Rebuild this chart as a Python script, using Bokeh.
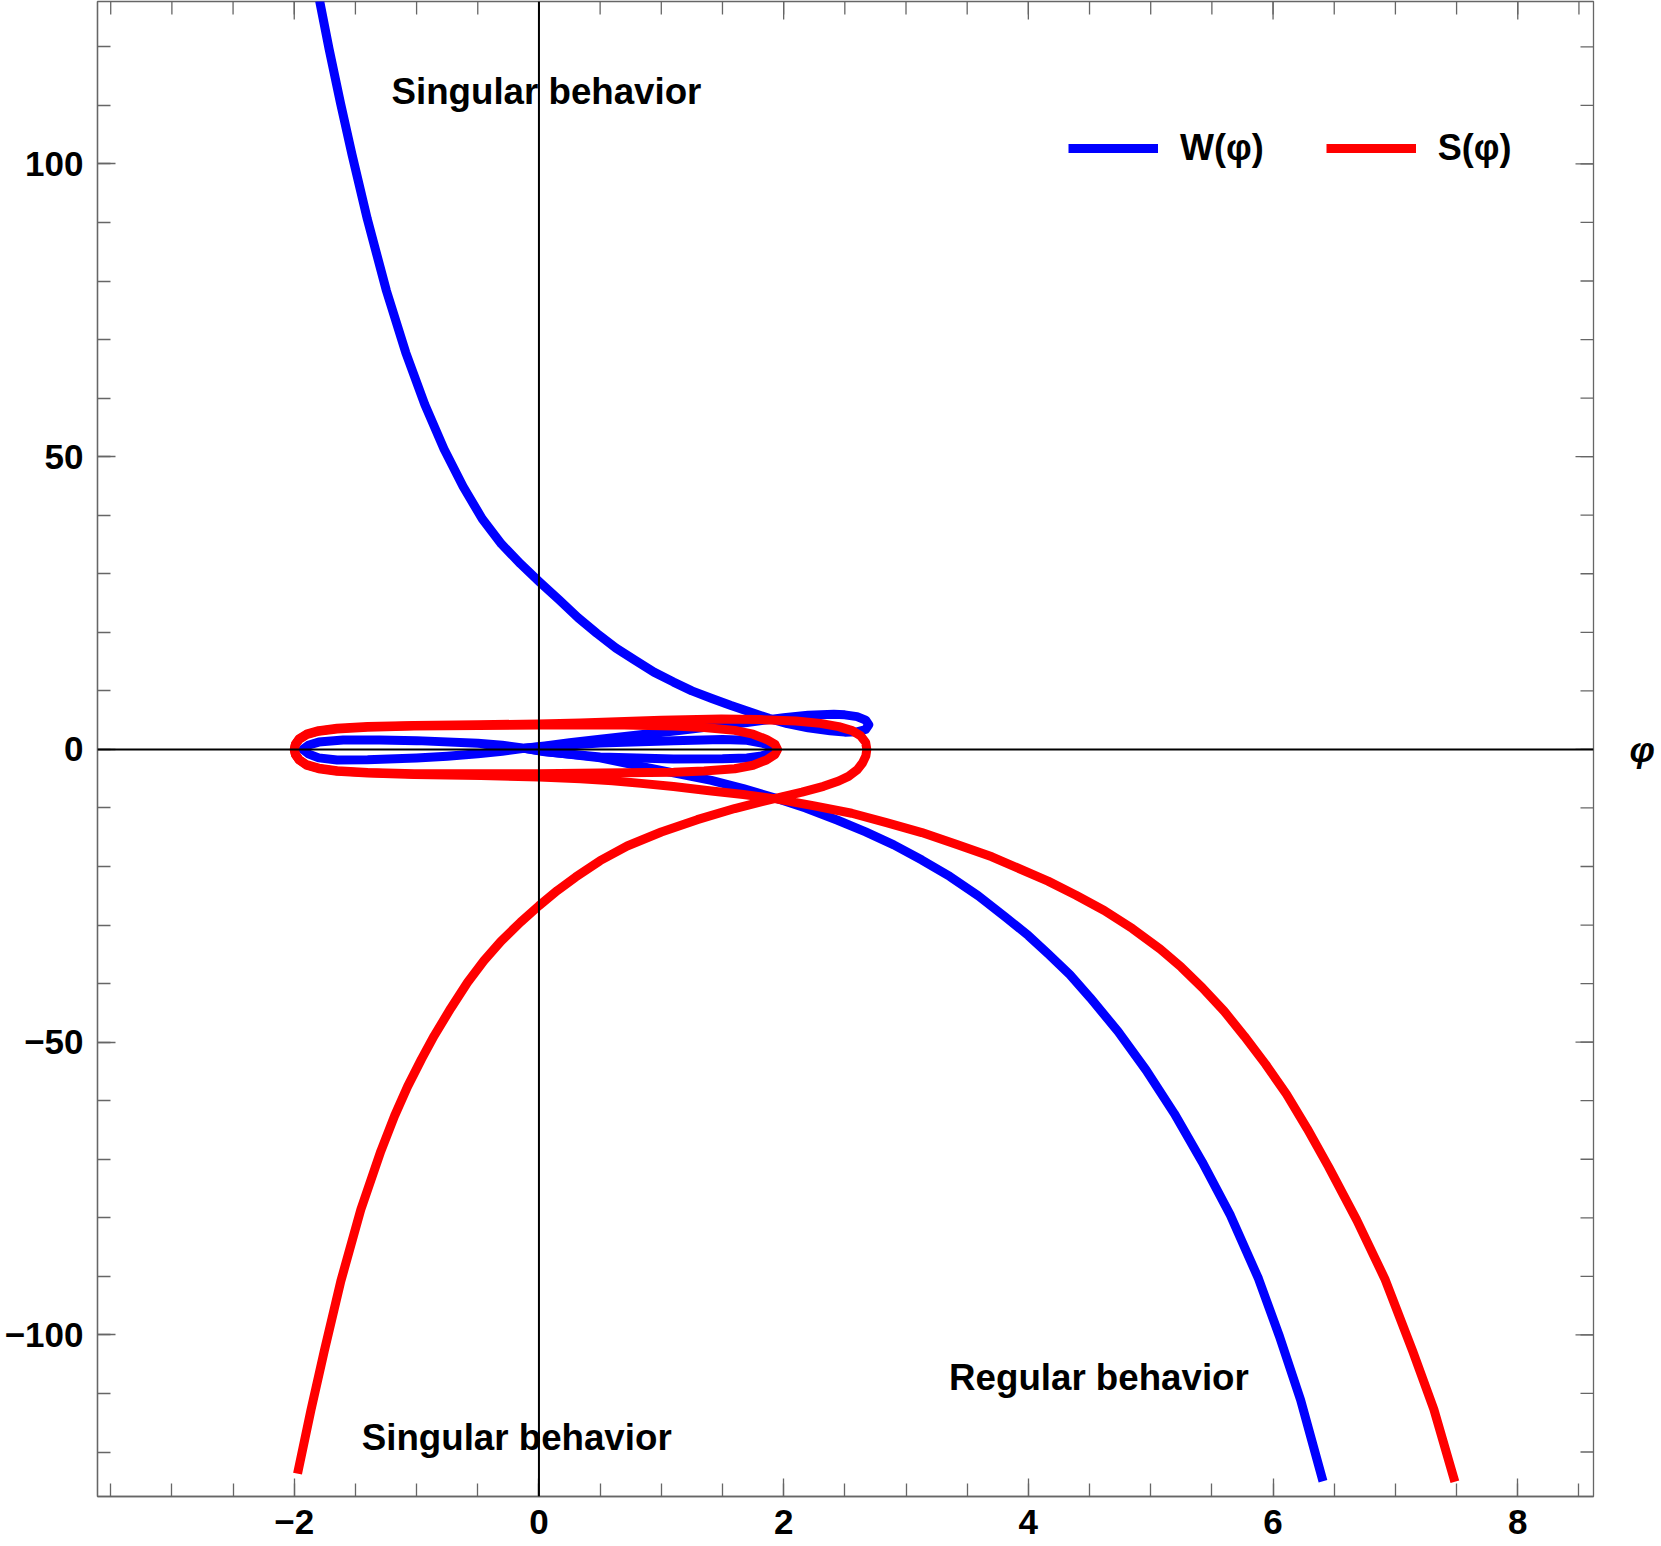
import math
from bokeh.plotting import figure
from bokeh.models import (Range1d, LinearAxis, FixedTicker, Span, Label,
                          Legend, LegendItem)
from bokeh.embed import file_html
from bokeh.resources import INLINE

FONT = "Liberation Sans"

# ---------------- data ----------------
# W(phi): main branch (top -> right loop -> left lens -> down)
w_phi = [-1.793, -1.715, -1.621, -1.528, -1.403, -1.246, -1.089, -0.933, -0.776,
         -0.620, -0.464, -0.307, -0.151, 0.005, 0.162, 0.32, 0.475, 0.63, 0.787,
         0.94, 1.1, 1.25, 1.413, 1.57, 1.726, 1.88, 2.03, 2.2, 2.38, 2.5, 2.6,
         2.67, 2.696, 2.67, 2.6, 2.5, 2.41, 2.2, 2.0, 1.7, 1.43, 1.16, 0.83, 0.5,
         0.25, 0.05, -0.12, -0.3, -0.5, -0.75, -1.0, -1.4, -1.65, -1.8, -1.88,
         -1.93, -1.88, -1.8, -1.6, -1.3, -1.0, -0.5, -0.3, -0.12, 0.05, 0.25, 0.5,
         0.835, 1.1, 1.409, 1.67, 1.925, 2.18, 2.441, 2.67, 2.9, 3.13, 3.358, 3.59,
         3.817, 4.0, 4.161, 4.34, 4.505, 4.734, 4.963, 5.193, 5.422, 5.652, 5.881,
         6.053, 6.225, 6.408]
w_val = [127.9, 119.6, 110.3, 101.6, 90.6, 78.3, 67.8, 58.9, 51.3,
         44.9, 39.4, 35.1, 31.7, 28.6, 25.6, 22.5, 19.8, 17.3, 15.2,
         13.2, 11.5, 10.0, 8.7, 7.5, 6.4, 5.3, 4.4, 3.7, 3.2, 2.95, 3.0,
         3.4, 4.2, 5.0, 5.6, 5.9, 6.0, 5.85, 5.4, 4.6, 3.95, 3.25, 2.5, 1.75,
         1.15, 0.6, 0.2, -0.3, -0.75, -1.15, -1.45, -1.75, -1.8, -1.45, -0.8,
         0.0, 0.75, 1.25, 1.6, 1.6, 1.5, 1.05, 0.7, 0.2, -0.35, -0.85, -1.45,
         -2.9, -4.0, -5.3, -6.7, -8.25, -10.0, -12.1, -14.1, -16.3, -18.9, -21.7, -25.0,
         -28.7, -31.8, -34.9, -38.5, -42.4, -48.2, -54.8, -62.2, -70.5, -79.6, -90.4,
         -100.3, -111.1, -125.0]

# W(phi): small right lens
wl_phi = [-0.12, 0.05, 0.5, 1.1, 1.5, 1.7, 1.82, 1.9, 1.93, 1.9, 1.82, 1.7, 1.5,
          1.1, 0.5, 0.05, -0.12]
wl_val = [0.2, 0.5, 1.1, 1.5, 1.7, 1.55, 1.1, 0.55, 0.0, -0.6, -1.1, -1.45, -1.6,
          -1.65, -1.3, -0.4, 0.2]

# S(phi): main branch (bottom-left -> right tip -> outer lens -> down-right)
s_phi = [-1.973, -1.864, -1.755, -1.619, -1.456, -1.292, -1.18, -1.074, -0.96,
         -0.856, -0.72, -0.584, -0.45, -0.312, -0.15, 0.0, 0.15, 0.3, 0.5, 0.721,
         1.0, 1.294, 1.6, 1.925, 2.15, 2.326, 2.45, 2.53, 2.6, 2.645, 2.672, 2.68,
         2.67, 2.63, 2.56, 2.45, 2.3, 2.1, 1.8, 1.49, 1.0, 0.34, 0.0, -0.5, -1.02,
         -1.4, -1.65, -1.8, -1.9, -1.96, -1.99, -2.0, -1.99, -1.96, -1.9, -1.8,
         -1.65, -1.4, -1.02, -0.475, 0.0, 0.34, 0.6, 0.835, 1.1, 1.409, 1.67, 1.925,
         2.24, 2.556, 2.84, 3.129, 3.41, 3.702, 4.161, 4.39, 4.62, 4.85, 5.078, 5.25,
         5.422, 5.6, 5.766, 5.94, 6.11, 6.28, 6.454, 6.684, 6.913, 7.142, 7.314, 7.486]
s_val = [-123.7, -112.9, -102.8, -90.8, -78.6, -68.6, -62.6, -57.6, -52.9,
         -48.9, -44.2, -39.8, -36.1, -32.8, -29.5, -26.7, -24.1, -21.8, -19.0, -16.5,
         -14.1, -12.0, -10.1, -8.4, -7.3, -6.3, -5.4, -4.6, -3.5, -2.3, -1.1, 0.0,
         1.2, 2.3, 3.2, 3.9, 4.45, 4.85, 5.1, 5.2, 5.0, 4.5, 4.35, 4.2, 4.1,
         3.9, 3.6, 3.2, 2.6, 1.8, 0.9, 0.0, -0.9, -1.8, -2.7, -3.3,
         -3.75, -4.05, -4.3, -4.45, -4.7, -5.0, -5.35, -5.8, -6.35, -7.1, -7.7, -8.4,
         -9.6, -10.9, -12.5, -14.2, -16.2, -18.35, -22.5, -24.9, -27.5, -30.6, -34.1, -37.2,
         -40.7, -44.7, -49.0, -53.8, -58.9, -64.8, -71.3, -80.4, -90.4, -102.8, -112.7, -125.1]

# S(phi): inner lens
sl_phi = [-2.0, -1.99, -1.96, -1.9, -1.8, -1.65, -1.4, -1.02, 0.0, 0.6, 1.1, 1.35,
          1.6, 1.75, 1.86, 1.93, 1.95, 1.93, 1.86, 1.75, 1.6, 1.35, 1.1, 0.5, 0.0,
          -1.02, -1.4, -1.65, -1.8, -1.9, -1.96, -1.99, -2.0]
sl_val = [0.0, 0.85, 1.7, 2.5, 3.1, 3.5, 3.8, 4.0, 4.15, 4.2, 4.0, 3.75,
          3.25, 2.6, 1.7, 0.85, 0.0, -0.85, -1.8, -2.7, -3.3, -3.7, -3.9, -4.05, -4.15,
          -4.15, -3.95, -3.65, -3.2, -2.6, -1.75, -0.85, 0.0]

x_ticks = [-2, 0, 2, 4, 6, 8]
x_tick_labels = ["\u22122", "0", "2", "4", "6", "8"]
x_minor = [-3.5 + 0.5 * i for i in range(25)]
y_ticks = [-100, -50, 0, 50, 100]
y_tick_labels = ["\u2212100", "\u221250", "0", "50", "100"]
y_minor = [-120 + 10 * i for i in range(25)]

X_START, X_END = -3.608, 8.619
Y_START, Y_END = -127.6, 127.74

series_names = ["W(\u03c6)", "S(\u03c6)"]
series_colors = ["#0000ff", "#ff0000"]
annotations = [("Singular behavior", -1.205, 112.35),
               ("Singular behavior", -1.448, -117.6),
               ("Regular behavior", 3.352, -107.3)]
axis_name = "\u03c6"

# ---------------- figure ----------------
p = figure(width=1661, height=1546, output_backend="svg", toolbar_location=None,
           x_range=Range1d(X_START, X_END), y_range=Range1d(Y_START, Y_END),
           min_border_left=97, min_border_right=68, min_border_top=1,
           min_border_bottom=50)
p.grid.visible = False
FRAME = "#666666"
p.outline_line_color = FRAME
p.outline_line_width = 1.3


def style_axis(ax, ticks, minor, labels):
    ax.ticker = FixedTicker(ticks=ticks, minor_ticks=minor)
    ax.axis_line_color = FRAME
    ax.axis_line_width = 1.3
    ax.major_tick_line_color = FRAME
    ax.minor_tick_line_color = FRAME
    ax.major_tick_line_width = 1.3
    ax.minor_tick_line_width = 1.3
    ax.major_tick_in = 18
    ax.major_tick_out = 0
    ax.minor_tick_in = 13
    ax.minor_tick_out = 0
    ax.major_label_overrides = {t: l for t, l in zip(ticks, labels)}
    ax.major_label_text_font = FONT
    ax.major_label_text_font_style = "bold"
    ax.major_label_text_font_size = "35px"
    ax.major_label_text_color = "black"


style_axis(p.xaxis[0], x_ticks, x_minor, x_tick_labels)
style_axis(p.yaxis[0], y_ticks, y_minor, y_tick_labels)
p.xaxis[0].major_label_standoff = 13
p.yaxis[0].major_label_standoff = 14

# mirrored frame ticks on top and right (inward)
tick_style = dict(line_color=FRAME, line_width=1.3, length_units="screen")
p.ray(x=x_ticks, y=[Y_END] * len(x_ticks), length=18, angle=-math.pi / 2, **tick_style)
p.ray(x=x_minor, y=[Y_END] * len(x_minor), length=13, angle=-math.pi / 2, **tick_style)
p.ray(x=[X_END] * len(y_ticks), y=y_ticks, length=18, angle=math.pi, **tick_style)
p.ray(x=[X_END] * len(y_minor), y=y_minor, length=13, angle=math.pi, **tick_style)

# axis name on the right, level with the horizontal axis
phi_ax = LinearAxis(ticker=FixedTicker(ticks=[]), axis_label=axis_name,
                    axis_line_color=None, major_tick_line_color=None,
                    minor_tick_line_color=None, axis_label_standoff=36,
                    axis_label_text_font=FONT, axis_label_text_font_style="bold italic",
                    axis_label_text_font_size="36px", axis_label_text_color="black")
if "axis_label_orientation" in phi_ax.properties():
    phi_ax.axis_label_orientation = "horizontal"
p.add_layout(phi_ax, "right")

# curves
lw = 9
r_w = p.line(w_phi, w_val, line_color=series_colors[0], line_width=lw, line_join="round")
p.line(wl_phi, wl_val, line_color=series_colors[0], line_width=lw, line_join="round")
r_s = p.line(s_phi, s_val, line_color=series_colors[1], line_width=lw, line_join="round")
p.line(sl_phi, sl_val, line_color=series_colors[1], line_width=lw, line_join="round")

# coordinate axes through the origin
p.add_layout(Span(location=0, dimension="width", line_color="black", line_width=2))
p.add_layout(Span(location=0, dimension="height", line_color="black", line_width=2))

# annotations
for txt, ax_, ay_ in annotations:
    p.add_layout(Label(x=ax_, y=ay_, text=txt, text_font=FONT, text_font_style="bold",
                       text_font_size="36.7px", text_color="black",
                       text_align="left", text_baseline="middle"))

legend = Legend(items=[LegendItem(label=series_names[0], renderers=[r_w]),
                       LegendItem(label=series_names[1], renderers=[r_s])],
                location=(971, 1327), orientation="horizontal",
                glyph_width=90, glyph_height=42, label_standoff=22, spacing=62,
                padding=0, margin=0, border_line_color=None,
                background_fill_alpha=0,
                label_text_font=FONT, label_text_font_style="bold",
                label_text_font_size="36px", label_text_color="black")
p.add_layout(legend)

open("out.html", "w").write(file_html(p, INLINE))
